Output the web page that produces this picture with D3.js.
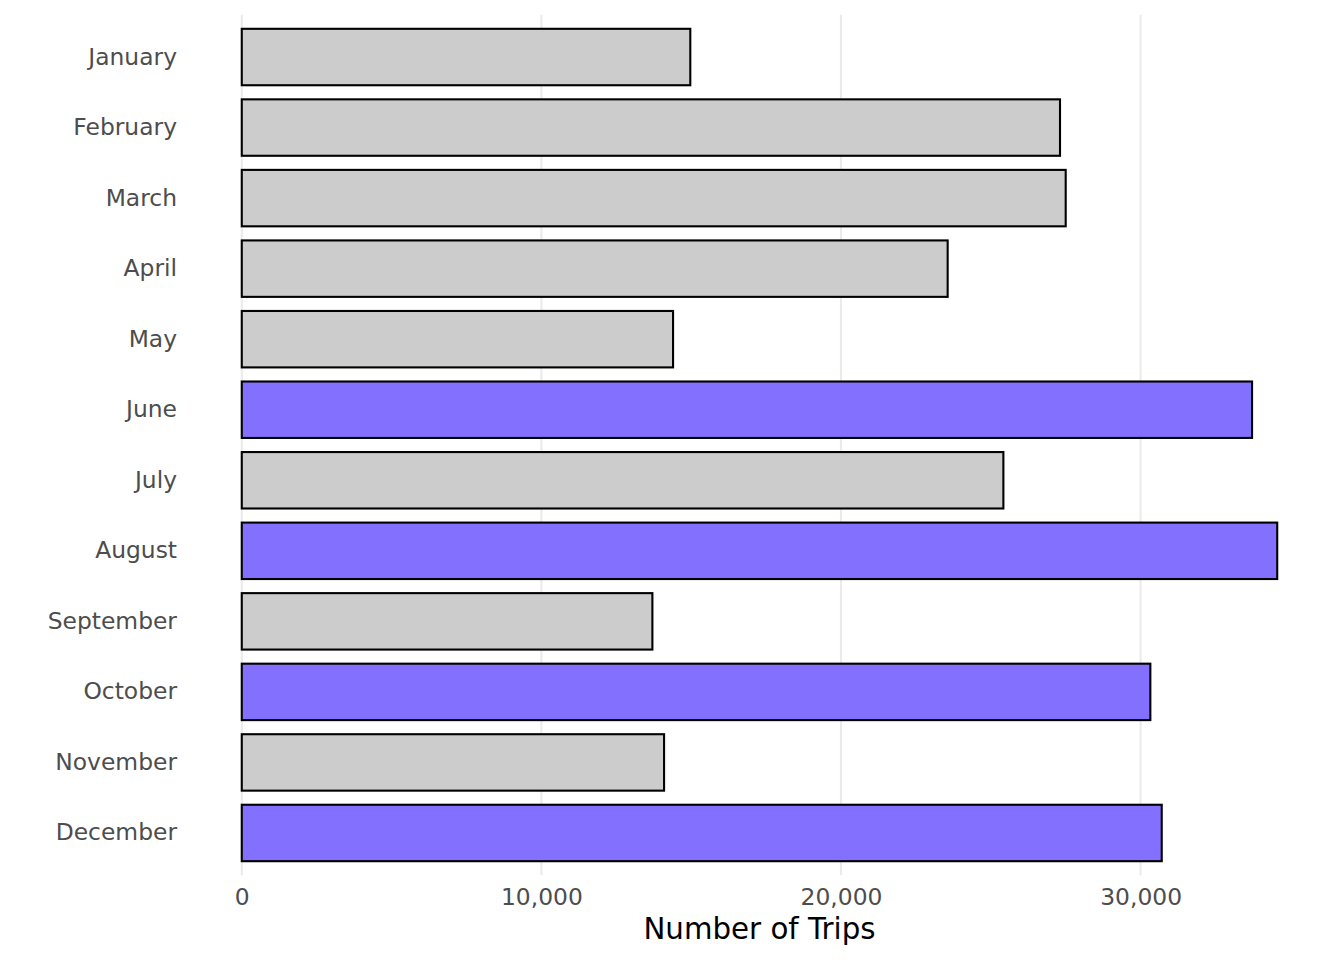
<!DOCTYPE html>
<html>
<head>
<meta charset="utf-8">
<script src="https://cdn.jsdelivr.net/npm/d3@7"></script>
<style>
  html, body { margin: 0; padding: 0; background: #ffffff; }
  svg { display: block; }
  text { font-family: "DejaVu Sans", sans-serif; }
</style>
</head>
<body>
<div id="chart"></div>
<script>
const months = ["January","February","March","April","May","June","July","August","September","October","November","December"];
const trips = [14970, 27310, 27500, 23560, 14395, 33720, 25420, 34560, 13705, 30325, 14095, 30705];
const highlighted = ["June","August","October","December"];
const xTicks = [0, 10000, 20000, 30000];
const xTitle = "Number of Trips";

const W = 1344, H = 960;
const panel = { left: 190, right: 1329, top: 14.7, bottom: 875.3 };

const svg = d3.select("#chart").append("svg").attr("width", W).attr("height", H);

const maxV = d3.max(trips);
const pad = maxV * 0.05;
const x = d3.scaleLinear().domain([-pad, maxV + pad]).range([panel.left, panel.right]);

// discrete scale with 0.6 expansion each side
const step = (panel.bottom - panel.top) / (months.length - 1 + 1.2);
const y = d3.scaleBand().domain(months)
  .range([panel.top + 0.6 * step - step / 2, panel.bottom - 0.6 * step + step / 2])
  .paddingInner(0.2).paddingOuter(0.1);

// gridlines
svg.append("g").selectAll("line").data(xTicks).join("line")
  .attr("x1", d => x(d)).attr("x2", d => x(d))
  .attr("y1", panel.top).attr("y2", panel.bottom)
  .attr("stroke", "#ebebeb").attr("stroke-width", 2.1);

// bars
svg.append("g").selectAll("rect").data(months).join("rect")
  .attr("x", x(0))
  .attr("y", d => y(d))
  .attr("width", (d, i) => x(trips[i]) - x(0))
  .attr("height", y.bandwidth())
  .attr("fill", d => highlighted.includes(d) ? "#8470FF" : "#CCCCCC")
  .attr("stroke", "#000000")
  .attr("stroke-width", 2.1);

// y axis labels
const yAxis = d3.axisLeft(y).tickSize(0).tickPadding(0);
const gy = svg.append("g").attr("transform", `translate(177,0)`).call(yAxis);
gy.select(".domain").remove();
gy.selectAll("text")
  .attr("fill", "#4d4d4d").attr("font-size", "23.4px")
  .attr("font-family", "DejaVu Sans, sans-serif");

// x axis labels
const xAxis = d3.axisBottom(x).tickValues(xTicks).tickSize(0).tickPadding(0)
  .tickFormat(d3.format(","));
const gx = svg.append("g").attr("transform", `translate(0,888)`).call(xAxis);
gx.select(".domain").remove();
gx.selectAll("text")
  .attr("fill", "#4d4d4d").attr("font-size", "23.4px")
  .attr("font-family", "DejaVu Sans, sans-serif")
  .attr("dy", "0.71em");

// x title
svg.append("text")
  .attr("x", (panel.left + panel.right) / 2)
  .attr("y", 939)
  .attr("text-anchor", "middle")
  .attr("fill", "#000000")
  .attr("font-size", "29.3px")
  .text(xTitle);
</script>
</body>
</html>
